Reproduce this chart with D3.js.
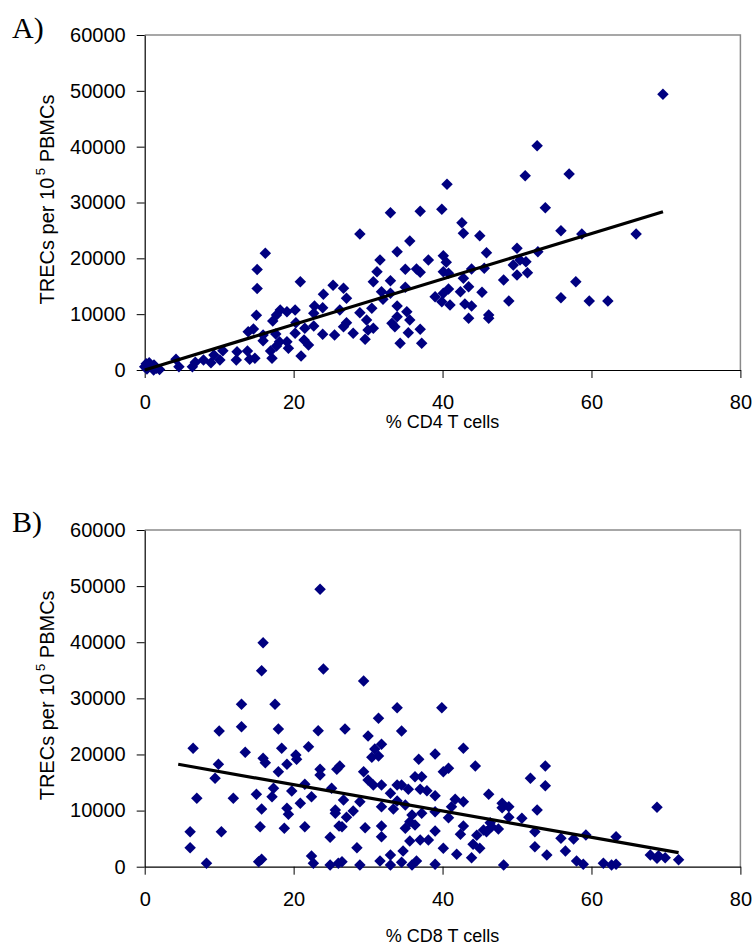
<!DOCTYPE html>
<html>
<head>
<meta charset="utf-8">
<script src="https://cdn.jsdelivr.net/npm/d3@7"></script>
<style>
  body { margin: 0; background: #fff; }
  svg { display: block; }
  text { font-family: "Liberation Sans", Arial, sans-serif; fill: #000; }
  .letter { font-family: "Liberation Serif", "Times New Roman", serif; }
</style>
</head>
<body>
<svg id="chart" width="752" height="946"></svg>
<script>
// Axis ticks shared by both panels
const xTicks = [0, 20, 40, 60, 80];
const yTicks = [0, 10000, 20000, 30000, 40000, 50000, 60000];

// Panel A: % CD4 T cells vs TRECs per 10^5 PBMCs
const cd4Pct = [
  16.2, 15.1, 15.1, 15.0, 20.9, 25.3, 24.0, 22.8, 23.9, 22.7, 20.2, 19.1, 18.2, 17.7, 17.2, 20.3,
  21.5, 20.2, 22.7, 23.9, 25.5, 14.6, 13.9, 15.9, 15.9, 17.6, 18.1, 19.1, 19.3, 21.4, 22.0, 21.0,
  16.9, 17.1, 17.7, 14.8, 14.1, 13.8, 12.4, 12.3, 10.5, 10.1, 9.3, 8.9, 7.9, 6.8, 6.4, 4.6,
  4.2, 1.25, 0.6, 0.0, 1.2, 0.3, 0.9, 1.6, 2.0, 0.2,
  52.7, 51.1, 40.6, 33.0, 37.0, 39.9, 28.9, 42.6, 42.8, 45.0, 35.6, 33.9, 31.6, 38.1, 40.1, 40.5,
  45.9, 50.0, 50.4, 51.2, 49.5, 52.8, 31.2, 30.7, 35.0, 36.5, 37.0, 40.1, 40.8, 43.9, 45.6, 50.0,
  51.4, 48.2, 42.8, 33.0, 31.8, 35.0, 33.0, 32.0, 39.0, 40.1, 40.8, 42.4, 43.5, 45.3, 39.9, 41.0,
  43.0, 43.9, 48.9, 43.5, 46.2, 46.2, 33.9, 30.5, 28.9, 27.1, 26.7, 26.2, 29.8, 30.0, 30.7, 29.6,
  28.0, 26.7, 27.1, 33.9, 35.2, 33.2, 33.6, 35.6, 35.4, 37.0, 34.3, 37.2,
  69.6, 57.0, 53.8, 55.9, 58.7, 66.0, 57.9, 55.9, 59.7, 62.2
];
const trecsA = [
  20900, 18000, 14600, 9800, 15800, 15200, 13550, 11460, 11160, 10150, 10750, 10450, 10750, 9850, 8780, 8470,
  7470, 6570, 7880, 6390, 6270, 7340, 6860, 6270, 5250, 6450, 5070, 5070, 3890, 5370, 4480, 2510,
  3400, 2090, 4300, 2090, 1920, 3400, 3280, 1790, 3460, 1790, 2690, 1310, 1790, 1370, 600, 600,
  1920, 900, 1310, 600, 0, 200, 700, 300, 100, 1100,
  40170, 34800, 33260, 28180, 28420, 28780, 24360, 26380, 24480, 24050, 23100, 21190, 19700, 19700, 20470, 19290,
  21010, 21790, 19700, 19400, 18810, 21190, 17610, 15810, 18030, 18090, 17500, 17610, 17320, 18090, 18210, 17010,
  17430, 16120, 16420, 15990, 14020, 14810, 13740, 12660, 13130, 13740, 14510, 14020, 14920, 13920, 12230, 11640,
  11820, 11460, 12360, 9260, 9850, 9260, 11460, 11050, 10260, 12840, 14630, 10750, 8960, 7160, 7470, 5500,
  6570, 7760, 8470, 9550, 10440, 8360, 7760, 8960, 6680, 7290, 4780, 4780,
  49380, 35100, 29070, 24950, 24360, 24360, 15810, 12950, 12360, 12360
];
const trendAX = [0, 69.6];
const trendAY = [0, 28350];

// Panel B: % CD8 T cells vs TRECs per 10^5 PBMCs
const cd8Pct = [
  23.55, 15.9, 15.7, 24.0, 13.0, 17.5, 10.0, 13.0, 17.95, 23.3, 6.5, 13.5, 18.4, 22.0, 20.3, 20.4,
  15.9, 16.2, 19.1, 9.9, 9.45, 17.95, 23.55, 23.55, 25.8, 7.0, 11.9, 15.0, 17.3, 17.1, 19.75, 21.5,
  20.9, 22.4, 25.1, 15.7, 19.1, 19.3, 25.6, 25.6, 6.1, 10.3, 15.5, 18.75, 21.5, 26.1, 6.1, 24.9,
  8.3, 15.3, 15.7, 22.4, 22.65, 24.9, 26.0,
  29.4, 33.9, 39.9, 31.4, 26.9, 34.5, 30.0, 31.8, 30.9, 30.5, 31.4, 42.8, 39.0, 36.8, 44.4, 40.1,
  40.8, 51.8, 26.2, 29.4, 30.0, 30.7, 31.8, 33.0, 33.9, 34.5, 35.4, 36.3, 37.2, 37.0, 37.9, 39.0,
  26.7, 28.9, 31.8, 33.4, 33.9, 35.0, 37.2, 39.0, 41.7, 42.8, 41.2, 40.8, 46.2, 48.0, 48.9, 48.0,
  52.7, 50.65, 48.9, 46.4, 46.6, 47.5, 45.5, 42.8, 42.4, 44.6, 45.9, 52.4, 44.1, 45.0, 41.9, 43.9,
  40.1, 39.0, 38.1, 37.0, 35.6, 35.9, 35.6, 36.3, 35.0, 34.7, 33.0, 31.8, 31.8, 29.6, 27.1, 26.5,
  28.0, 28.5, 31.6, 33.0, 34.5, 35.9, 36.5, 39.0, 26.5, 28.9, 48.2, 52.4,
  53.8, 53.8, 68.8, 59.25, 63.3, 55.9, 57.6, 54.0, 56.5, 58.0, 58.9, 61.6, 62.7, 63.3, 67.9, 68.8,
  69.0, 69.9, 71.7
];
const trecsB = [
  49430, 39920, 34930, 35230, 28940, 28940, 24180, 24950, 24540, 24240, 21100, 20390, 21100, 21380, 19900, 19140,
  19320, 18530, 18250, 18250, 15750, 16930, 17360, 16340, 17360, 12190, 12190, 12900, 13970, 12470, 13490, 14680,
  11300, 12470, 13970, 10280, 10410, 9340, 10100, 9520, 6240, 6240, 7130, 6840, 7130, 7250, 3390, 5240,
  600, 890, 1320, 1900, 600, 300, 600,
  33090, 28330, 28330, 26440, 24540, 24180, 23290, 21810, 20970, 19490, 19730, 21100, 20080, 19140, 17940, 16930,
  17530, 15750, 17940, 16930, 15450, 14560, 14560, 13080, 14560, 14560, 13790, 16040, 16040, 13790, 13540, 12650,
  11890, 11580, 10690, 10280, 11710, 10990, 9520, 9800, 12010, 11580, 10690, 8730, 12900, 11300, 10690, 10510,
  10100, 8620, 8800, 7840, 7130, 6720, 6540, 7250, 5770, 5590, 6240, 6240, 3990, 3280, 2210, 1600,
  3280, 6360, 4760, 4760, 4580, 9210, 8020, 7430, 6840, 2800, 2080, 5350, 7250, 6950, 8800, 7130,
  9930, 3390, 1020, 300, 780, 300, 1020, 430, 890, 300, 300, 3560,
  17940, 14430, 10580, 5650, 5350, 5060, 4940, 2080, 2800, 1020, 430, 600, 300, 430, 2080, 1500,
  1960, 1600, 1250
];
const trendBX = [4.5, 71.7];
const trendBY = [18250, 2500];

const svg = d3.select("#chart");
const markerColor = "#000080";

function drawPanel(opt) {
  const x = d3.scaleLinear().domain([0, 80]).range([144.7, 740.4]);
  const y = d3.scaleLinear().domain([0, 60000]).range([opt.bottom, opt.top]);
  const g = svg.append("g");

  // plot frame: grey on the top and right sides
  g.append("path")
    .attr("d", `M${x(0)},${y(60000)}H${x(80)}V${y(0)}`)
    .attr("fill", "none")
    .attr("stroke", "#8a8a8a")
    .attr("stroke-width", 1.5);

  const yAxis = d3.axisLeft(y).tickValues(yTicks).tickFormat(d3.format("d"))
    .tickSize(8).tickSizeOuter(0).tickPadding(11);
  const xAxis = d3.axisBottom(x).tickValues(xTicks).tickFormat(d3.format("d"))
    .tickSize(8).tickSizeOuter(0).tickPadding(17);

  const ya = g.append("g").attr("transform", `translate(${x(0)},0)`).call(yAxis);
  const xa = g.append("g").attr("transform", `translate(0,${y(0)})`).call(xAxis);
  [ya, xa].forEach(a => {
    a.select(".domain").attr("stroke", "#000").attr("stroke-width", 1.2);
    a.selectAll(".tick line").attr("stroke", "#000").attr("stroke-width", 1);
    a.selectAll(".tick text").style("font-size", "20px")
      .style("font-family", '"Liberation Sans", Arial, sans-serif').attr("fill", "#000");
  });

  // data points as diamonds
  const diamond = d3.symbol().type(d3.symbolSquare).size(66)();
  g.append("g").selectAll("path")
    .data(d3.range(opt.xs.length))
    .join("path")
    .attr("d", diamond)
    .attr("transform", i => `translate(${x(opt.xs[i])},${y(opt.ys[i])}) rotate(45)`)
    .attr("fill", markerColor);

  // linear trend line
  const line = d3.line().x(d => x(d[0])).y(d => y(d[1]));
  g.append("path")
    .datum(d3.zip(opt.tx, opt.ty))
    .attr("d", line)
    .attr("fill", "none")
    .attr("stroke", "#000")
    .attr("stroke-width", 3.2);

  // y-axis title with superscript exponent
  const yt = g.append("text")
    .attr("transform", `translate(53.5,${(opt.top + opt.bottom) / 2 - 3}) rotate(-90)`)
    .attr("text-anchor", "middle")
    .style("font-size", "20px");
  yt.append("tspan").text("TRECs per 10");
  yt.append("tspan").attr("dy", -9).style("font-size", "13px").text("\u2009" + "5");
  yt.append("tspan").attr("dy", 9).text(" PBMCs");

  // x-axis title
  g.append("text")
    .attr("x", (x(0) + x(80)) / 2)
    .attr("y", opt.xTitleY)
    .attr("text-anchor", "middle")
    .style("font-size", "18px")
    .text(opt.xTitle);

  // panel letter
  g.append("text")
    .attr("class", "letter")
    .attr("x", 12)
    .attr("y", opt.letterY)
    .style("font-size", "30px")
    .text(opt.letter);
}

drawPanel({
  top: 35, bottom: 370, xs: cd4Pct, ys: trecsA, tx: trendAX, ty: trendAY,
  letter: "A)", letterY: 38, xTitle: "% CD4 T cells", xTitleY: 428
});
drawPanel({
  top: 530, bottom: 866.7, xs: cd8Pct, ys: trecsB, tx: trendBX, ty: trendBY,
  letter: "B)", letterY: 532, xTitle: "% CD8 T cells", xTitleY: 942
});
</script>
</body>
</html>
